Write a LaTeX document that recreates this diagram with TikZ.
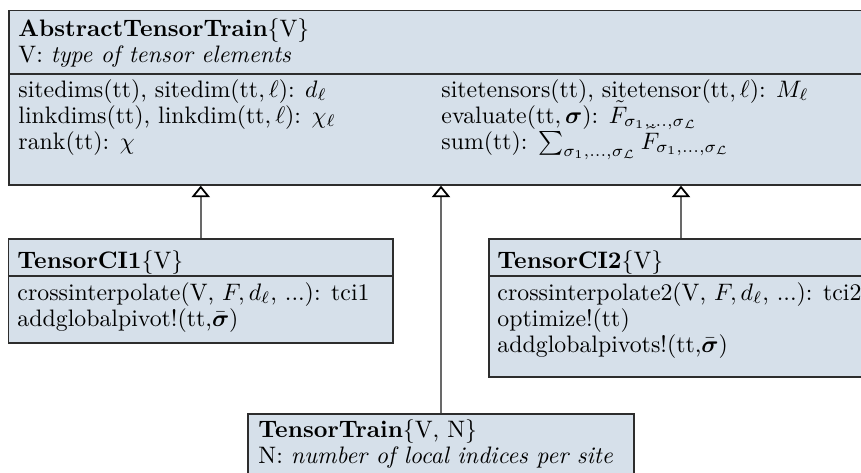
\documentclass[tikz,border=0pt]{standalone}
\usepackage{amsmath,amssymb}
\usetikzlibrary{arrows.meta,fit}
\definecolor{boxfill}{RGB}{214,224,234}
\definecolor{boxline}{RGB}{45,45,45}
\definecolor{linkline}{RGB}{105,105,105}
\begin{document}
\begin{tikzpicture}[x=0.42pt,y=-0.42pt,
  classbox/.style={draw=boxline, fill=boxfill, line width=0.55pt, rectangle, inner sep=0pt},
  divider/.style={draw=boxline, line width=0.55pt},
  txt/.style={anchor=base west, inner sep=0pt},
  inherits/.style={draw=linkline, line width=0.75pt,
    -{Triangle[open, width=7.6pt, length=4.8pt, color=black, fill=white]}}]
\useasboundingbox (0,0) rectangle (861,472);
\clip (0,0) rectangle (861,472);

% class boxes
\node[classbox, fit={(9,10.7) (873,185)}] (att) {};
\node[classbox, fit={(8.5,239) (393,343)}] (ci1) {};
\node[classbox, fit={(489,239) (873,377)}] (ci2) {};
\node[classbox, fit={(248,414) (634,520)}] (tt) {};

% compartment separators
\draw[divider] (att.west |- 0,74) -- (att.east |- 0,74);
\draw[divider] (ci1.west |- 0,276) -- (ci1.east |- 0,276);
\draw[divider] (ci2.west |- 0,276) -- (ci2.east |- 0,276);

% AbstractTensorTrain
\node[txt] (att-name) at (18,36) {\textbf{AbstractTensorTrain}\{V\}};
\node[txt] (att-param) at (18,62) {V: \textit{type of tensor elements}};
\node[txt] (att-m1) at (18,97) {sitedims(tt), sitedim$(\mathrm{tt},\ell)$: $d_\ell$};
\node[txt] (att-m2) at (18,123) {linkdims(tt), linkdim$(\mathrm{tt},\ell)$: $\chi_\ell$};
\node[txt] (att-m3) at (18,149) {rank(tt): $\chi$};
\node[txt] (att-m4) at (441,97) {sitetensors(tt), sitetensor$(\mathrm{tt},\ell)$: $M_\ell$};
\node[txt] (att-m5) at (441,123) {evaluate$(\mathrm{tt},\boldsymbol{\sigma})$: $\tilde{F}_{\sigma_1,\ldots,\sigma_{\mathcal{L}}}$};
\node[txt] (att-m6) at (441,149) {sum(tt): $\sum_{\sigma_1,\ldots,\sigma_{\mathcal{L}}}\tilde{F}_{\sigma_1,\ldots,\sigma_{\mathcal{L}}}$};

% TensorCI1
\node[txt] (ci1-name) at (17,268) {\textbf{TensorCI1}\{V\}};
\node[txt] (ci1-m1) at (17,300) {crossinterpolate(V, $F, d_\ell$, ...): tci1};
\node[txt] (ci1-m2) at (17,326) {addglobalpivot!(tt,$\bar{\boldsymbol{\sigma}}$)};

% TensorCI2
\node[txt] (ci2-name) at (497,268) {\textbf{TensorCI2}\{V\}};
\node[txt] (ci2-m1) at (497,300) {crossinterpolate2(V, $F, d_\ell$, ...): tci2};
\node[txt] (ci2-m2) at (497,326) {optimize!(tt)};
\node[txt] (ci2-m3) at (497,352) {addglobalpivots!(tt,$\bar{\boldsymbol{\sigma}}$)};

% TensorTrain
\node[txt] (tt-name) at (258,437) {\textbf{TensorTrain}\{V, N\}};
\node[txt] (tt-param) at (258,463) {N: \textit{number of local indices per site}};

% inheritance links
\draw[inherits] (ci1.north) -- (ci1.north |- att.south);
\draw[inherits] (ci2.north) -- (ci2.north |- att.south);
\draw[inherits] (att.south |- tt.north) -- (att.south);
\end{tikzpicture}
\end{document}
